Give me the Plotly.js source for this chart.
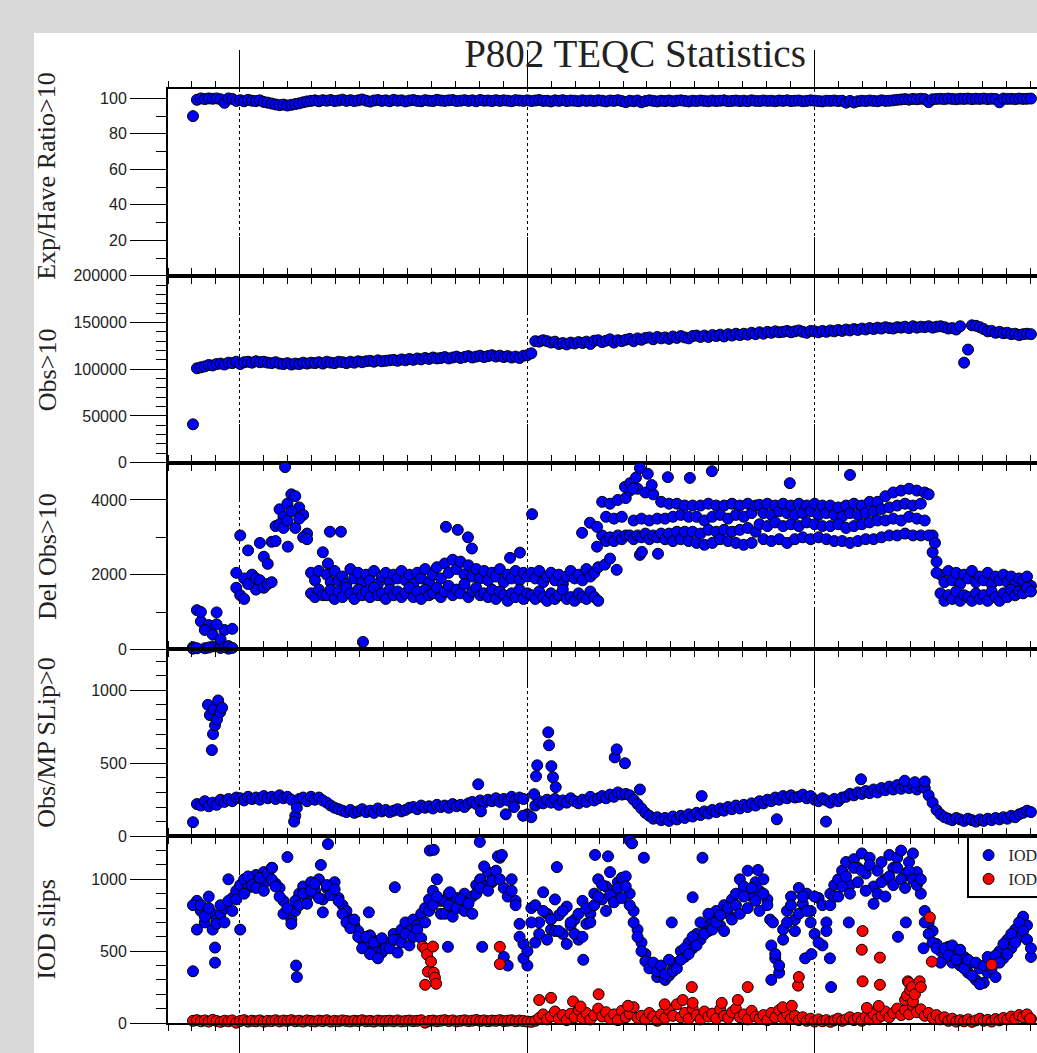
<!DOCTYPE html>
<html>
<head>
<meta charset="utf-8">
<script src="https://cdn.plot.ly/plotly-3.0.1.min.js"></script>
<style>
  html, body { margin:0; padding:0; width:1037px; height:1053px; overflow:hidden; background:#d9d9d9; }
  #chart { position:absolute; left:34px; top:33px; width:1100px; height:1020px; }
</style>
</head>
<body>
<div id="chart"></div>
<script>
// Sampling grid: one sample every 5 days, starting 2006.837 (decimal year)
const startYear = 2006.837;
const stepYears = 5 / 365.25;

// ---- Panel 1: Exp/Have Ratio>10 ----
const expHaveRatio = [
  90, 99.2, 100, 99.6, 100, 99.8, 100, 99.5, 97.5, 100,
  99.7, 98.6, 99, 98.4, 99.2, 98.7, 98.5, 98.9, 98, 97.6,
  97.1, 96.6, 96.2, 96.5, 96, 96.4, 96.8, 97.2, 97.8, 98.3,
  98.6, 98.9, 98.4, 99, 98.7, 99.1, 98.5, 98.8, 99.3, 98.6,
  99, 98.5, 98.9, 99.4, 98.7, 98.2, 98.8, 99.1, 98.6, 98.9,
  98.4, 99.2, 98.7, 98.9, 98.3, 98.8, 99.1, 98.6, 98.4, 99,
  98.7, 98.5, 99.2, 98.8, 98.6, 98.9, 99.1, 98.5, 98.7, 99,
  98.6, 98.9, 98.4, 99.1, 98.7, 98.8, 98.5, 99, 98.6, 98.9,
  98.7, 98.4, 99, 98.8, 98.6, 98.9, 98.5, 98.8, 99.1, 98.6,
  98.7, 98.3, 98.9, 98.6, 99, 98.5, 98.8, 98.7, 98.4, 98.9,
  98.6, 98.8, 98.5, 98.9, 98.7, 98.3, 98.8, 98.6, 99, 98.5,
  97.9, 98.7, 98.4, 98.8, 97.8, 98.5, 98.9, 98.6, 98.3, 98.7,
  98.5, 98.8, 98.4, 98.7, 98.9, 98.6, 98.3, 98.7, 98.5, 98.8,
  98.6, 98.4, 98.8, 98.5, 98.7, 98.9, 98.4, 98.6, 98.8, 98.5,
  98.7, 98.4, 98.9, 98.6, 98.5, 98.8, 98.6, 98.7, 98.4, 98.8,
  98.6, 98.9, 98.5, 98.7, 98.8, 98.4, 98.6, 98.9, 98.7, 98.5,
  98.3, 98.7, 98.6, 98.8, 98.5, 98.7, 97.6, 98.6, 97.7, 98.4,
  98.7, 98.5, 98.8, 98.6, 98.4, 98.9, 98.6, 98.7, 98.9, 99.2,
  99.4, 99.6, 99.3, 99.7, 99.5, 99.8, 99.6, 97.9, 99.5, 99.7,
  99.8, 99.6, 99.9, 99.7, 99.5, 99.8, 99.7, 99.9, 99.6, 99.8,
  99.7, 99.9, 99.6, 99.8, 99.7, 97.8, 99.9, 99.7, 99.8, 99.6,
  99.9, 99.7, 99.8, 99.9
];

// ---- Panel 2: Obs>10 (thousands of observations) ----
const obsThousands = [
  41, 101, 102, 103, 104.5, 104, 105.5, 106, 105, 107,
  106.5, 108, 105.5, 107.5, 108, 107, 108.5, 107.5, 108, 107,
  106.5, 107.5, 106, 105.5, 106.5, 105, 106, 105.5, 107, 106,
  107, 106.5, 107.5, 106, 108, 107, 106.5, 108, 107.5, 106.5,
  108, 107, 108.5, 107.5, 108.5, 109, 108, 109.5, 108.5, 109,
  109.5, 110, 109, 110.5, 109.5, 111, 110, 111.5, 110.5, 112,
  111, 112.5, 111.5, 112, 113, 111.5, 112.5, 113.5, 112, 113,
  114, 112.5, 113.5, 114.5, 113, 114, 115, 113.5, 114.5, 113,
  114, 112.5, 113.5, 112, 114.5, 115, 117, 130, 129.5, 131,
  130, 128.5, 129.5, 127, 128, 126.5, 128.5, 127.5, 129, 128,
  129.5, 127, 130.5, 131, 129, 130.5, 132, 128.5, 131, 130,
  131.5, 132.5, 130, 133, 131.5, 133.5, 134, 132, 134.5, 133,
  134, 132.5, 135, 133.5, 135.5, 134, 133, 135.5, 136, 134.5,
  136, 134.5, 136.5, 135.5, 137, 135, 137.5, 136, 138, 136.5,
  138, 137, 139, 137.5, 139.5, 138, 140, 139, 140.5, 139.5,
  140, 141, 139.5, 140.5, 141.5, 140, 139, 141, 140.5, 139.5,
  141, 140, 141.5, 140.5, 142, 141, 142.5, 141.5, 143, 142,
  143.5, 142.5, 144, 143, 144.5, 143.5, 145, 144, 143.5, 145,
  144.5, 145.5, 144, 146, 144.5, 145.5, 145, 146, 144.5, 145.5,
  146, 145, 143.5, 144, 142.5, 146, 107, 121, 147, 146.5,
  145, 143, 140.5, 141, 139, 140, 138.5, 139, 137.5, 138,
  136.5, 137.5, 138, 137.5
];

// ---- Panel 3: Del Obs>10 (two readings per sample date) ----
const delObsA = [
  60, 1050, 750, 30, 650, 80, 990, 40, 520, 20,
  550, 2050, 3050, 1900, 2650, 1750, 1600, 2850, 2480, 2290,
  2880, 3300, 3750, 3550, 3900, 4150, 4100, 3800, 3600, 3100,
  2050, 1850, 2100, 2600, 2000, 1800, 2100, 1850, 1950, 1750,
  2150, 1900, 2050, 1800, 2000, 1850, 2100, 1750, 1950, 2050,
  1800, 2000, 1900, 2100, 1850, 2000, 1750, 2050, 1900, 2150,
  1800, 2000, 2200, 1900, 2300, 2050, 2400, 2150, 2350, 2000,
  2250, 1950, 2150, 1900, 2100, 1850, 2050, 1950, 2150, 1800,
  2000, 1900, 2100, 1850, 2050, 1950, 2050, 1900, 2100, 1800,
  1950, 2050, 1850, 2000, 1750, 1950, 2100, 1900, 2000, 1850,
  2150, 1950, 2050, 2200, 3950, 3550, 3900, 3500, 4000, 3550,
  4050, 4250, 3450, 4300, 3500, 4200, 3450, 4150, 3500, 3950,
  3500, 3900, 3550, 3900, 3600, 3850, 3550, 3850, 3550, 3850,
  3450, 3900, 3550, 3850, 3600, 3850, 3500, 3900, 3600, 3850,
  3550, 3900, 3650, 3850, 3870, 3650, 3900, 3600, 3850, 3700,
  3900, 3650, 3850, 3600, 3900, 3650, 3850, 3700, 3900, 3600,
  3850, 3650, 3850, 3600, 3800, 3550, 3850, 3650, 3900, 3600,
  3850, 3650, 3950, 3700, 3950, 3750, 4100, 3800, 4200, 3850,
  4250, 3900, 4300, 3850, 4250, 3900, 4200, 4150, 3050, 2350,
  2000, 1800, 2100, 1850, 2050, 1750, 2000, 1900, 2100, 1800,
  1950, 1850, 2050, 1750, 1950, 1850, 2000, 1800, 1950, 1750,
  1900, 1850, 1950, 1700
];
const delObsB = [
  20, 30, 1000, 520, 50, 400, 670, 270, 60, 90,
  40, 1650, 1450, 1350, 1750, 2000, 1900, 1850, 1650, 1750,
  1800, 2900, 3350, 3250, 3450, 3700, 3250, 3500, 3000, 2950,
  1500, 1400, 1600, 1450, 1450, 1600, 1350, 1550, 1400, 1650,
  1500, 1350, 1600, 1450, 1550, 1400, 1650, 1450, 1500, 1350,
  1600, 1450, 1550, 1400, 1500, 1650, 1400, 1550, 1350, 1600,
  1450, 1500, 1650, 1400, 1550, 1700, 1450, 1600, 1500, 1750,
  1400, 1550, 1650, 1450, 1500, 1400, 1600, 1350, 1550, 1450,
  1300, 1500, 1400, 1600, 1350, 1500, 1450, 1350, 1550, 1400,
  1300, 1500, 1350, 1450, 1600, 1350, 1400, 1300, 1500, 1400,
  1350, 1550, 1400, 1300, 3050, 2900, 3000, 2900, 3050, 2950,
  3050, 3050, 2950, 3050, 3000, 3100, 2950, 3050, 3000, 3100,
  2950, 3100, 2900, 3150, 2950, 3150, 2900, 3150, 2850, 3100,
  2800, 3200, 2850, 3150, 2950, 3200, 2900, 3150, 2850, 3200,
  2800, 3250, 2850, 3150, 3350, 2950, 3300, 2900, 3400, 2950,
  3300, 2850, 3350, 2950, 3300, 3000, 3400, 2950, 3350, 3000,
  3300, 2950, 3300, 2900, 3350, 2900, 3250, 2850, 3300, 2900,
  3350, 2950, 3400, 2950, 3450, 3000, 3450, 3050, 3500, 3050,
  3450, 3100, 3550, 3050, 3500, 3050, 3450, 3050, 2600, 2050,
  1500, 1300, 1450, 1350, 1550, 1300, 1450, 1400, 1300, 1500,
  1350, 1450, 1300, 1550, 1400, 1300, 1500, 1400, 1600, 1450,
  1550, 1500, 1650, 1550
];
// isolated readings: position on the sampling grid, value
const delObsExtraPos = [23.4, 24.1, 34.3, 34.8, 37.6, 43.2, 64.3, 67.3, 69.9, 70.9, 80.6, 83.1, 86.2, 98.9, 100.9, 102.7, 102.7, 104.7, 106, 107.7, 109.8, 111.1, 111.8, 112.6, 113.6, 113.6, 114.1, 115.6, 116.6, 118.2, 120.7, 126.3, 131.9, 151.7, 167, 188.6];
const delObsExtraVal = [4880, 2750, 2300, 3150, 3150, 200, 3280, 3200, 3000, 2700, 2450, 2590, 3620, 3120, 3390, 3280, 2750, 2270, 2430, 2130, 4350, 4450, 4300, 4600, 4850, 2530, 2610, 4700, 4400, 2560, 4610, 4590, 4770, 4450, 4670, 2850];

// ---- Panel 4: Obs/MP SLip>0 ----
const obsMpSlip = [
  96, 220, 210, 240, 205, 230, 215, 250, 235, 255,
  240, 265, 260, 245, 270, 255, 265, 250, 275, 260,
  270, 255, 280, 260, 270, 250, 140, 255, 265, 240,
  270, 250, 265, 245, 230, 210, 195, 185, 175, 165,
  180, 160, 170, 185, 165, 175, 160, 190, 170, 180,
  165, 175, 185, 170, 180, 195, 200, 185, 210, 195,
  205, 190, 215, 200, 210, 195, 220, 205, 215, 200,
  225, 235, 220, 245, 230, 250, 240, 260, 235, 255,
  245, 270, 250, 265, 255, 150, 130, 210, 240, 225,
  250, 230, 255, 215, 245, 230, 260, 240, 225, 250,
  235, 270, 245, 260, 275, 260, 285, 270, 300, 285,
  290, 280, 250, 220, 190, 160, 140, 120, 130, 110,
  125, 105, 135, 115, 140, 125, 150, 135, 160, 145,
  170, 155, 180, 165, 190, 175, 200, 185, 210, 190,
  215, 200, 225, 210, 240, 225, 250, 240, 265, 250,
  275, 260, 280, 265, 270, 285, 260, 275, 250, 240,
  260, 245, 230, 255, 240, 265, 270, 290, 280, 300,
  290, 310, 295, 320, 300, 330, 315, 340, 320, 350,
  325, 345, 330, 355, 320, 340, 330, 280, 230, 180,
  150, 130, 120, 110, 125, 115, 105, 120, 110, 100,
  115, 105, 120, 110, 125, 115, 130, 120, 140, 130,
  150, 160, 175, 165
];
const obsMpExtraPos = [3.8, 4.3, 4.8, 5.1, 5.3, 5.6, 6.1, 6.4, 6.9, 7.4, 25.7, 26.4, 72.5, 73.2, 79.5, 81.6, 83.9, 86.7, 87.2, 87.5, 90.3, 90.5, 91.1, 91.5, 92.2, 107.2, 107.7, 109.8, 113.6, 129.3, 148.4, 160.9, 169.8, 180.9, 183.5, 186];
const obsMpExtraVal = [900, 830, 590, 700, 870, 760, 800, 930, 850, 880, 100, 195, 356, 170, 150, 200, 140, 288, 411, 486, 712, 623, 480, 404, 336, 540, 595, 500, 320, 275, 116, 100, 390, 380, 370, 375];

// ---- Panel 5: IOD slips (blue) ----
const iodSlipsA = [
  360, 850, 780, 700, 880, 760, 720, 760, 800, 1000,
  870, 920, 960, 1000, 940, 1010, 1030, 980, 1050, 990,
  1080, 970, 940, 850, 1155, 720, 780, 900, 950, 880,
  980, 920, 1000, 860, 940, 900, 980, 870, 820, 780,
  720, 680, 640, 580, 540, 610, 520, 570, 490, 550,
  560, 620, 580, 650, 700, 640, 720, 680, 760, 800,
  860, 920, 1000, 850, 850, 900, 780, 870, 820, 900,
  840, 880, 960, 1000, 950, 1050, 980, 1020, 1150, 940,
  880, 1000, 850, 690, 550, 400, 800, 820, 700, 910,
  760, 650, 860, 750, 620, 810, 680, 720, 580, 850,
  690, 760, 900, 1000, 860, 950, 1050, 920, 980, 1010,
  1020, 900, 780, 650, 560, 480, 420, 380, 320, 350,
  300, 330, 380, 420, 500, 460, 560, 520, 620, 580,
  680, 640, 720, 780, 680, 820, 760, 860, 900, 1000,
  950, 1060, 880, 980, 920, 1000, 860, 540, 450, 350,
  650, 780, 880, 720, 940, 830, 900, 780, 620, 870,
  540, 700, 900, 960, 1000, 1060, 1120, 960, 1140, 1080,
  1180, 1040, 1150, 950, 1060, 1120, 1000, 1170, 1080, 1150,
  1200, 1040, 1120, 1180, 1050, 900, 780, 700, 640, 550,
  500, 450, 530, 420, 480, 400, 460, 350, 420, 300,
  380, 280, 350, 420, 320, 500, 450, 580, 520, 650,
  600, 740, 680, 460
];
const iodSlipsB = [
  820, 650, 820, 740, 800, 650, 690, 820, 700, 850,
  780, 860, 650, 900, 1020, 960, 940, 1010, 920, 1040,
  1000, 950, 880, 760, 800, 690, 850, 820, 900, 830,
  920, 970, 870, 770, 960, 890, 930, 850, 760, 700,
  660, 720, 600, 520, 600, 480, 560, 450, 590, 520,
  520, 580, 490, 560, 620, 540, 600, 650, 590, 700,
  780, 820, 880, 760, 760, 820, 740, 800, 860, 780,
  830, 760, 900, 940, 1090, 920, 990, 1060, 1000, 460,
  400, 920, 820, 600, 450, 500, 700, 560, 620, 780,
  580, 720, 640, 640, 780, 550, 700, 620, 760, 600,
  800, 700, 820, 880, 960, 780, 890, 840, 940, 870,
  950, 820, 700, 600, 500, 430, 380, 420, 360, 400,
  340, 440, 360, 380, 440, 520, 480, 600, 540, 700,
  620, 760, 650, 700, 750, 640, 800, 720, 820, 760,
  880, 800, 940, 850, 780, 900, 820, 300, 480, 400,
  580, 700, 820, 640, 760, 880, 780, 700, 880, 560,
  820, 640, 820, 880, 880, 950, 1020, 900, 1080, 980,
  1060, 920, 1100, 830, 900, 980, 880, 1020, 960, 1080,
  1000, 940, 1060, 1000, 960, 1000, 700, 620, 560, 520,
  420, 520, 470, 540, 440, 510, 380, 440, 330, 420,
  270, 400, 460, 380, 470, 420, 550, 480, 620, 560,
  700, 640, 580, 520
];
const iodExtraPos = [5.6, 5.6, 20.1, 26.2, 26.4, 32.5, 34.3, 44.7, 51.3, 60.2, 61.2, 64.8, 65.3, 72.9, 73.5, 77.5, 78.5, 92.5, 99.2, 102.2, 105.5, 111, 111.6, 114.6, 121.7, 127, 129.5, 143.6, 146.7, 147.4, 155.6, 157.2, 161.9, 162.2, 166.7, 179.2, 181.2, 185.7];
const iodExtraVal = [525, 420, 1080, 400, 320, 1100, 1245, 770, 945, 1200, 1205, 530, 910, 1260, 530, 1160, 1170, 1085, 440, 1170, 1160, 1270, 1250, 1150, 700, 875, 1150, 1065, 720, 700, 450, 480, 450, 250, 700, 600, 700, 520];

// ---- Panel 5: second IOD series (red) ----
const iodSlips2 = [
  15, 20, 12, 18, 10, 22, 14, 8, 16, 12,
  18, 2, 14, 20, 10, 16, 12, 18, 9, 15,
  13, 19, 11, 17, 14, 20, 12, 16, 10, 18,
  14, 11, 17, 13, 19, 10, 15, 12, 18, 14,
  11, 16, 13, 19, 12, 15, 10, 17, 13, 14,
  16, 12, 18, 11, 14, 17, 13, 15, 19, 2,
  14, 17, 12, 16, 20, 13, 18, 11, 15, 19,
  13, 16, 21, 14, 18, 12, 17, 15, 20, 13,
  16, 19, 12, 17, 14, 10, 8, 15, 35, 60,
  25, 45, 80, 30, 55, 20, 65, 40, 90, 35,
  70, 25, 55, 100, 45, 75, 30, 60, 20, 85,
  40, 65, 110, 35, 50, 25, 70, 45, 15, 60,
  35, 90, 50, 130, 40, 70, 30, 100, 55, 25,
  80, 45, 65, 30, 95, 50, 35, 75, 100, 40,
  60, 25, 85, 45, 30, 55, 20, 70, 40, 90,
  35, 65, 30, 50, 20, 40, 15, 30, 10, 25,
  12, 20, 8, 18, 30, 15, 25, 40, 20, 35,
  15, 45, 25, 60, 30, 50, 80, 40, 70, 100,
  55, 90, 60, 120, 75, 95, 50, 70, 35, 55,
  25, 40, 15, 30, 10, 20, 12, 25, 8, 18,
  30, 15, 22, 10, 28, 18, 35, 25, 45, 30,
  55, 40, 60, 28
];
const iod2ExtraPos = [58.4, 59, 59, 59.5, 59.7, 60.5, 61, 61.2, 61.5, 61.8, 78, 78, 88, 91, 96.6, 98.5, 103.1, 110.6, 119.9, 124.5, 126.8, 127, 134.4, 138.5, 141, 149.9, 152.2, 153.8, 154, 170, 170.2, 170.2, 171.3, 174.3, 174.6, 174.6, 181, 181.5, 181.7, 182, 182.3, 182.8, 183, 183.5, 184.7, 185, 187.3, 187.8, 203, 212.8];
const iod2ExtraVal = [532, 518, 266, 476, 357, 427, 532, 350, 315, 273, 530, 410, 160, 175, 150, 115, 200, 120, 130, 160, 250, 140, 140, 160, 250, 110, 120, 260, 320, 510, 640, 290, 105, 119, 455, 266, 160, 190, 290, 280, 230, 250, 150, 200, 290, 250, 735, 427, 406, 30];

// ---- Text ----
const chartTitle = 'P802 TEQC Statistics';
const panelTitles = ['Exp/Have Ratio>10', 'Obs>10', 'Del Obs>10', 'Obs/MP SLip>0', 'IOD slips'];
const legendNames = ['IOD Slips>10', 'IOD Slips<10'];

// ---- Build ----
const posToYear = p => startYear + p * stepYears;
const gridYears = arr => arr.map((_, i) => posToYear(i));

const mk = (color) => ({ symbol: 'circle', size: 11, color: color, line: { color: '#000', width: 1 } });
const BLUE = '#0000ff', RED = '#ff0000';

function pts(xs, ys, xa, ya, color, name, showlegend) {
  return { type: 'scatter', mode: 'markers', x: xs, y: ys, xaxis: xa, yaxis: ya,
    marker: mk(color), name: name || '', showlegend: !!showlegend, cliponaxis: false, hoverinfo: 'skip' };
}

const traces = [
  pts(gridYears(expHaveRatio), expHaveRatio, 'x', 'y', BLUE),
  pts(gridYears(obsThousands), obsThousands.map(v => v * 1000), 'x2', 'y2', BLUE),
  pts(gridYears(delObsA).concat(gridYears(delObsB), delObsExtraPos.map(posToYear)),
      delObsA.concat(delObsB, delObsExtraVal), 'x3', 'y3', BLUE),
  pts(gridYears(obsMpSlip).concat(obsMpExtraPos.map(posToYear)),
      obsMpSlip.concat(obsMpExtraVal), 'x4', 'y4', BLUE),
  pts(gridYears(iodSlipsA).concat(gridYears(iodSlipsB), iodExtraPos.map(posToYear)),
      iodSlipsA.concat(iodSlipsB, iodExtraVal), 'x5', 'y5', BLUE, legendNames[0], true),
  pts(gridYears(iodSlips2).concat(iod2ExtraPos.map(posToYear)),
      iodSlips2.concat(iod2ExtraVal), 'x5', 'y5', RED, legendNames[1], true)
];

function xAxis(anchor) {
  return {
    anchor: anchor, domain: [0, 1], range: [2006.75, 2010.0],
    showticklabels: false, ticks: 'outside', ticklen: 37, tickwidth: 1, tickcolor: '#000',
    tickmode: 'linear', tick0: 2007, dtick: 1,
    minor: { ticks: 'outside', ticklen: 6, tickwidth: 1, tickcolor: '#000', tick0: 2007, dtick: 1 / 12, showgrid: false },
    showgrid: true, gridcolor: '#000', griddash: 'dot', gridwidth: 1,
    showline: true, linecolor: '#000', linewidth: 2, mirror: 'ticks', zeroline: false
  };
}
function yAxis(anchor, domain, range, majorOpts, minorDtick) {
  return Object.assign({
    anchor: anchor, domain: domain, range: range,
    ticks: 'outside', ticklen: 36, tickwidth: 1, tickcolor: '#000',
    tickfont: { family: 'Liberation Sans', size: 16, color: '#222' },
    tickformat: 'd',
    minor: { ticks: 'outside', ticklen: 10, tickwidth: 1, tickcolor: '#000', tick0: 0, dtick: minorDtick, showgrid: false },
    showgrid: false, zeroline: false,
    showline: true, linecolor: '#000', linewidth: 2, mirror: 'ticks'
  }, majorOpts);
}

const serif = 'Liberation Serif';
const titleY = [0.907, 0.7, 0.5, 0.3, 0.1];

const layout = {
  width: 1100, height: 1020,
  margin: { l: 134, r: 32, t: 56, b: 30 },
  paper_bgcolor: '#ffffff', plot_bgcolor: '#ffffff',
  font: { family: 'Liberation Sans', color: '#222' },
  title: { text: chartTitle, font: { family: serif, size: 39, color: '#222' },
           xref: 'paper', x: 0.5, xanchor: 'center', yref: 'container', y: 0.9804, yanchor: 'middle' },
  showlegend: true,
  legend: { x: 0.855, y: 0.2, xanchor: 'left', yanchor: 'top', bgcolor: '#fff',
            bordercolor: '#000', borderwidth: 2, font: { family: serif, size: 16, color: '#222' } },
  xaxis: xAxis('y'), xaxis2: xAxis('y2'), xaxis3: xAxis('y3'), xaxis4: xAxis('y4'), xaxis5: xAxis('y5'),
  yaxis: yAxis('x', [0.8, 1], [0, 105.3], { tickmode: 'array', tickvals: [20, 40, 60, 80, 100] }, 10),
  yaxis2: yAxis('x2', [0.6, 0.8], [0, 200000], { tickmode: 'linear', tick0: 0, dtick: 50000 }, 10000),
  yaxis3: yAxis('x3', [0.4, 0.6], [0, 5000], { tickmode: 'linear', tick0: 0, dtick: 2000 }, 1000),
  yaxis4: yAxis('x4', [0.2, 0.4], [0, 1280], { tickmode: 'linear', tick0: 0, dtick: 500 }, 100),
  yaxis5: yAxis('x5', [0, 0.2], [0, 1300], { tickmode: 'linear', tick0: 0, dtick: 500 }, 100),
  annotations: panelTitles.map((t, i) => ({
    text: t, xref: 'paper', yref: 'paper', x: -0.1296, y: titleY[i],
    xanchor: 'center', yanchor: 'middle', textangle: -90, showarrow: false,
    font: { family: serif, size: 26, color: '#222' }
  }))
};

Plotly.newPlot('chart', traces, layout, { staticPlot: true, displayModeBar: false });
</script>
</body>
</html>
